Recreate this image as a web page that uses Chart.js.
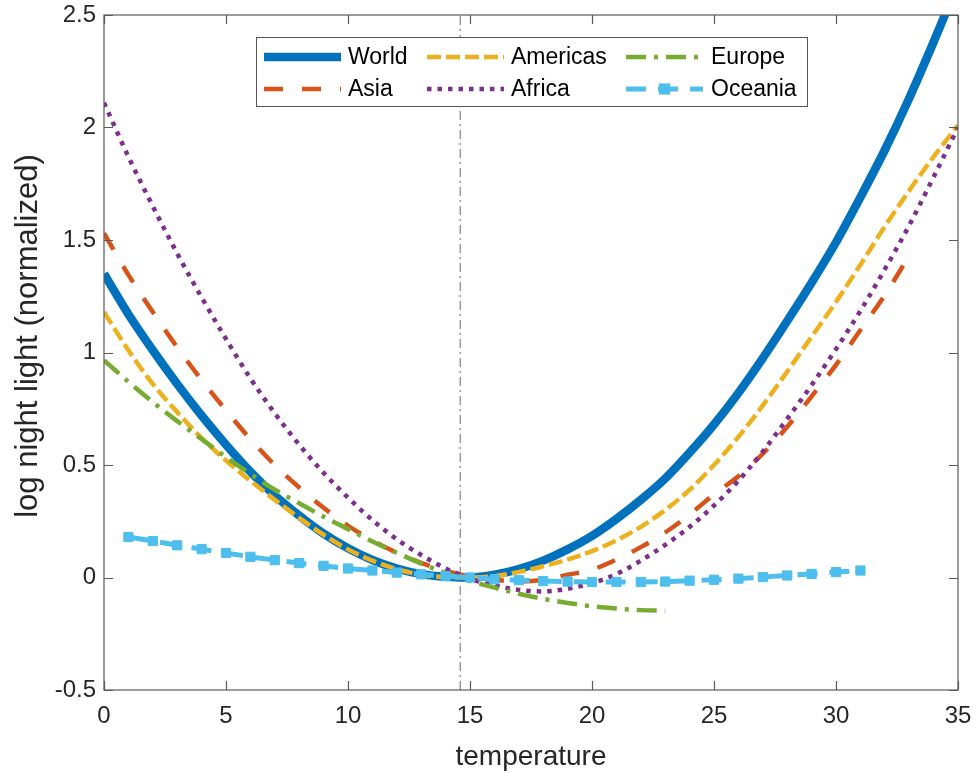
<!DOCTYPE html>
<html lang="en">
<head>
<meta charset="UTF-8">
<title>Log night light vs temperature</title>
<script src="https://cdn.jsdelivr.net/npm/chart.js@4/dist/chart.umd.min.js"></script>
<style>
  html, body { margin: 0; padding: 0; background: #fff; }
  #wrap { width: 976px; height: 773px; }
</style>
</head>
<body>
<div id="wrap"><canvas id="chart" width="976" height="773"></canvas></div>
<script>
// temperature grid (deg C)
const temps = [0,1,2,3,4,5,6,7,8,9,10,11,12,13,14,15,16,17,18,19,20,21,22,23,24,25,26,27,28,29,30,31,32,33,34,35];
const oceaniaTemps = [1,2,3,4,5,6,7,8,9,10,11,12,13,14,15,16,17,18,19,20,21,22,23,24,25,26,27,28,29,30,31];

const world = [1.35,1.17,1.01,0.86,0.72,0.59,0.47,0.365,0.275,0.195,0.13,0.078,0.04,0.015,0.003,0.0,
  0.012,0.037,0.075,0.125,0.185,0.26,0.345,0.44,0.555,0.68,0.82,0.975,1.14,1.31,1.49,1.69,1.90,2.13,2.38,2.64];
const asia = [1.53,1.345,1.18,1.023,0.878,0.743,0.615,0.50,0.40,0.31,0.23,0.165,0.11,0.065,0.03,0.005,
  -0.01,-0.018,-0.01,0.012,0.035,0.08,0.135,0.20,0.28,0.37,0.45,0.55,0.67,0.805,0.945,1.10,1.255,1.43];
const americas = [1.18,1.01,0.86,0.735,0.62,0.52,0.43,0.345,0.265,0.19,0.125,0.075,0.037,0.012,0.002,0.0,
  0.006,0.025,0.05,0.08,0.117,0.165,0.225,0.30,0.39,0.50,0.625,0.765,0.915,1.07,1.225,1.39,1.56,1.72,1.87,2.01];
const africa = [2.11,1.87,1.65,1.44,1.245,1.06,0.885,0.73,0.59,0.465,0.355,0.255,0.17,0.10,0.04,-0.005,
  -0.035,-0.055,-0.062,-0.05,-0.025,0.015,0.075,0.145,0.225,0.32,0.43,0.56,0.705,0.855,1.015,1.185,1.37,1.565,1.78,2.0];
const europe = [0.965,0.87,0.78,0.695,0.615,0.535,0.46,0.39,0.33,0.27,0.215,0.16,0.11,0.062,0.02,-0.015,
  -0.045,-0.072,-0.095,-0.113,-0.128,-0.138,-0.145,-0.148];
const oceania = [0.18,0.162,0.143,0.126,0.109,0.092,0.077,0.064,0.052,0.04,0.031,0.022,0.014,0.006,0.0,
  -0.008,-0.012,-0.016,-0.018,-0.02,-0.02,-0.02,-0.018,-0.014,-0.01,-0.005,0.002,0.009,0.016,0.024,0.031];

const thresholdTemp = 14.6;

const xTicks = [0,5,10,15,20,25,30,35];
const yTicks = [-0.5,0,0.5,1,1.5,2,2.5];
const yTickLabels = ['-0.5','0','0.5','1','1.5','2','2.5'];
const yTitle = 'log night light (normalized)';

const FONT = "'Liberation Sans', Arial, Helvetica, sans-serif";

function pts(xs, ys) {
  return ys.map((y, i) => ({ x: xs[i], y: y }));
}

// legend layout: [dataset index, column, row]
const legendSlots = [[0,0,0],[2,1,0],[4,2,0],[1,0,1],[3,1,1],[5,2,1]];

const matlabLegend = {
  id: 'matlabLegend',
  afterDraw(chart) {
    const ctx = chart.ctx;
    const box = { x: 256, y: 37, w: 551, h: 69 };
    const colX = [264, 427, 626];
    const textX = [348, 511, 711];
    const rowY = [57, 89];
    const sampleLen = 77;
    ctx.save();
    ctx.fillStyle = '#fff';
    ctx.fillRect(box.x, box.y, box.w, box.h);
    ctx.strokeStyle = '#555';
    ctx.lineWidth = 1;
    ctx.setLineDash([]);
    ctx.strokeRect(box.x + 0.5, box.y + 0.5, box.w, box.h);
    legendSlots.forEach(([di, c, r]) => {
      const ds = chart.data.datasets[di];
      const y = rowY[r];
      ctx.save();
      ctx.strokeStyle = ds.borderColor;
      ctx.lineWidth = ds.borderWidth;
      ctx.setLineDash(ds.borderDash || []);
      ctx.lineCap = 'butt';
      ctx.beginPath();
      ctx.moveTo(colX[c], y);
      ctx.lineTo(colX[c] + sampleLen, y);
      ctx.stroke();
      if (ds.pointRadius > 0) {
        const s = ds.pointRadius * Math.SQRT1_2 * 2 + 2;
        ctx.fillStyle = ds.borderColor;
        ctx.fillRect(colX[c] + sampleLen / 2 - s / 2, y - s / 2, s, s);
      }
      ctx.restore();
      ctx.fillStyle = '#000';
      ctx.font = '23px ' + FONT;
      ctx.textBaseline = 'middle';
      ctx.textAlign = 'left';
      ctx.fillText(ds.label, textX[c], y + 1);
    });
    ctx.restore();
  }
};

// box, inward ticks and the rotated y label
const boxAxes = {
  id: 'boxAxes',
  afterDatasetsDraw(chart) {
    const ctx = chart.ctx;
    const a = chart.chartArea;
    const xs = chart.scales.x, ys = chart.scales.y;
    const tl = 9;
    ctx.save();
    ctx.strokeStyle = '#5a5a5a';
    ctx.lineWidth = 1.2;
    ctx.setLineDash([]);
    ctx.strokeRect(a.left, a.top, a.right - a.left, a.bottom - a.top);
    ctx.beginPath();
    xTicks.forEach(v => {
      const px = Math.round(xs.getPixelForValue(v)) + 0.5;
      ctx.moveTo(px, a.bottom); ctx.lineTo(px, a.bottom - tl);
      ctx.moveTo(px, a.top); ctx.lineTo(px, a.top + tl);
    });
    yTicks.forEach(v => {
      const py = Math.round(ys.getPixelForValue(v)) + 0.5;
      ctx.moveTo(a.left, py); ctx.lineTo(a.left + tl, py);
      ctx.moveTo(a.right, py); ctx.lineTo(a.right - tl, py);
    });
    ctx.stroke();

    ctx.translate(28, 336);
    ctx.rotate(-Math.PI / 2);
    ctx.fillStyle = '#262626';
    ctx.font = '31px ' + FONT;
    ctx.textAlign = 'center';
    ctx.textBaseline = 'middle';
    ctx.fillText(yTitle, 0, 0);
    ctx.restore();
  }
};

new Chart(document.getElementById('chart'), {
  type: 'line',
  data: {
    datasets: [
      { label: 'World', data: pts(temps, world), borderColor: '#0072BD', borderWidth: 8.5,
        borderDash: [], pointRadius: 0, cubicInterpolationMode: 'monotone', order: 6 },
      { label: 'Asia', data: pts(temps, asia), borderColor: '#D95319', borderWidth: 4.5,
        borderDash: [19, 19], pointRadius: 0, cubicInterpolationMode: 'monotone', order: 5 },
      { label: 'Americas', data: pts(temps, americas), borderColor: '#EDB120', borderWidth: 4.5,
        borderDash: [14, 5], pointRadius: 0, cubicInterpolationMode: 'monotone', order: 4 },
      { label: 'Africa', data: pts(temps, africa), borderColor: '#7E2F8E', borderWidth: 4.5,
        borderDash: [4.5, 6], pointRadius: 0, cubicInterpolationMode: 'monotone', order: 3 },
      { label: 'Europe', data: pts(temps, europe), borderColor: '#77AC30', borderWidth: 4.5,
        borderDash: [20, 8, 4, 8], pointRadius: 0, cubicInterpolationMode: 'monotone', order: 2 },
      { label: 'Oceania', data: pts(oceaniaTemps, oceania), borderColor: '#4DBEEE', borderWidth: 5,
        borderDash: [20, 12], pointRadius: 6.5, pointStyle: 'rect', pointBackgroundColor: '#4DBEEE',
        pointBorderColor: '#4DBEEE', pointBorderWidth: 1, tension: 0, order: 1 },
      { label: 'threshold', data: [{ x: thresholdTemp, y: yTicks[0] }, { x: thresholdTemp, y: yTicks[yTicks.length - 1] }],
        borderColor: '#8c8c8c', borderWidth: 1.3, borderDash: [9, 4, 2, 4], pointRadius: 0, order: 7 }
    ]
  },
  options: {
    responsive: false,
    animation: false,
    devicePixelRatio: 1,
    layout: { padding: { top: 15, right: 18, left: 0, bottom: 0 } },
    plugins: { legend: { display: false }, tooltip: { enabled: false } },
    scales: {
      x: {
        type: 'linear', min: 0, max: 35,
        grid: { display: false, drawTicks: false },
        border: { display: false },
        ticks: { stepSize: 5, padding: 12, color: '#262626', font: { family: FONT, size: 24 } },
        title: { display: true, text: 'temperature', color: '#262626',
          font: { family: FONT, size: 28, lineHeight: 1 }, padding: { top: 0, bottom: 2 } },
        afterFit(scale) { scale.height = 83; scale.paddingLeft = 0; scale.paddingRight = 0; }
      },
      y: {
        type: 'linear', min: -0.5, max: 2.5,
        grid: { display: false, drawTicks: false },
        border: { display: false },
        afterBuildTicks(scale) { scale.ticks = yTicks.map(v => ({ value: v })); },
        ticks: { padding: 8, color: '#262626', font: { family: FONT, size: 24 },
          callback: (v) => yTickLabels[yTicks.indexOf(v)] },
        title: { display: false },
        afterFit(scale) { scale.width = 104; scale.paddingTop = 0; scale.paddingBottom = 0; }
      }
    }
  },
  plugins: [boxAxes, matlabLegend]
});
</script>
</body>
</html>
